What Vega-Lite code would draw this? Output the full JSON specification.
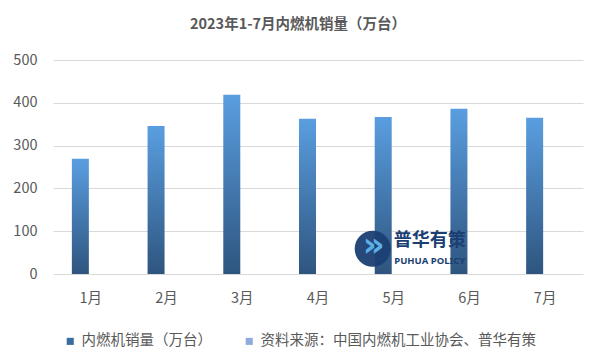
{
  "$schema": "https://vega.github.io/schema/vega-lite/v6.json",
  "width": 530,
  "height": 214,
  "autosize": {"type": "pad"},
  "padding": {"left": 12, "top": 16, "right": 18, "bottom": 5},
  "background": "white",
  "title": {"text": "2023年1-7月内燃机销量（万台）", "fontSize": 14.5, "font": "Noto Sans CJK SC", "fontWeight": "bold", "color": "#595959", "offset": 20, "dx": -20},
  "config": {"view": {"stroke": null}, "font": "Noto Sans CJK SC"},
  "layer": [
    {
      "data": {"values": [
        {"month": "1月", "sales": 269, "series": "内燃机销量（万台）"},
        {"month": "2月", "sales": 346, "series": "内燃机销量（万台）"},
        {"month": "3月", "sales": 419, "series": "内燃机销量（万台）"},
        {"month": "4月", "sales": 363, "series": "内燃机销量（万台）"},
        {"month": "5月", "sales": 367, "series": "内燃机销量（万台）"},
        {"month": "6月", "sales": 386, "series": "内燃机销量（万台）"},
        {"month": "7月", "sales": 365, "series": "内燃机销量（万台）"}
      ]},
      "layer": [
        {
          "mark": {"type": "bar", "size": 17, "xOffset": -10.5, "fill": {"gradient": "linear", "x1": 0, "y1": 0, "x2": 0, "y2": 1, "stops": [{"offset": 0, "color": "#5A9EE0"}, {"offset": 1, "color": "#2E557F"}]}},
          "encoding": {
            "x": {"field": "month", "type": "nominal", "sort": null, "title": null, "scale": {"paddingInner": 0, "paddingOuter": 0},
                  "axis": {"labelAngle": 0, "ticks": false, "domain": false, "labelPadding": 17, "labelFontSize": 14.5, "labelColor": "#595959", "labelFont": "Noto Sans CJK SC"}},
            "y": {"field": "sales", "type": "quantitative", "title": null, "scale": {"domain": [0, 500]},
                  "axis": {"values": [0, 100, 200, 300, 400, 500], "ticks": false, "domain": false, "labelPadding": 16, "labelFontSize": 14.5, "labelColor": "#595959", "gridColor": "#d9d9d9", "gridWidth": 1}}
          }
        },
        {
          "mark": {"type": "bar", "size": 17, "opacity": 0, "xOffset": -10.5},
          "encoding": {
            "x": {"field": "month", "type": "nominal", "sort": null},
            "y": {"field": "sales", "type": "quantitative"},
            "color": {"field": "series", "type": "nominal",
                      "scale": {"domain": ["内燃机销量（万台）", "资料来源：中国内燃机工业协会、普华有策"], "range": ["#3A6C9E", "#8FAADC"]},
                      "legend": {"title": null, "orient": "none", "direction": "horizontal", "legendX": 10, "legendY": 274, "symbolType": "square", "symbolSize": 50, "symbolOpacity": 1, "symbolStrokeWidth": 0, "labelFontSize": 14.5, "labelColor": "#595959", "labelFont": "Noto Sans CJK SC", "labelLimit": 0, "columnPadding": 30, "labelOffset": 4}}
          }
        }
      ]
    },
    {
      "data": {"values": [{"month": "5月", "v": 59}]},
      "mark": {"type": "point", "shape": "circle", "filled": true, "size": 1300, "color": "#1B3F73", "opacity": 0.95, "xOffset": -21},
      "encoding": {"x": {"field": "month", "type": "nominal", "sort": null}, "y": {"field": "v", "type": "quantitative"}}
    },
    {
      "data": {"values": [{"month": "5月", "v": 59, "t": "»"}]},
      "mark": {"type": "text", "fontSize": 34, "fontWeight": "bold", "color": "#5BB0E6", "xOffset": -20, "dy": -3, "font": "DejaVu Sans"},
      "encoding": {"x": {"field": "month", "type": "nominal", "sort": null}, "y": {"field": "v", "type": "quantitative"}, "text": {"field": "t"}}
    },
    {
      "data": {"values": [{"month": "5月", "v": 77, "t": "普华有策"}]},
      "mark": {"type": "text", "fontSize": 18, "fontWeight": "bold", "color": "#1B3F73", "dx": 36, "font": "Noto Sans CJK SC"},
      "encoding": {"x": {"field": "month", "type": "nominal", "sort": null}, "y": {"field": "v", "type": "quantitative"}, "text": {"field": "t"}}
    },
    {
      "data": {"values": [{"month": "5月", "v": 31, "t": "PUHUA POLICY"}]},
      "mark": {"type": "text", "fontSize": 9.5, "fontWeight": "bold", "color": "#1B3F73", "dx": 36, "font": "Noto Sans"},
      "encoding": {"x": {"field": "month", "type": "nominal", "sort": null}, "y": {"field": "v", "type": "quantitative"}, "text": {"field": "t"}}
    }
  ]
}
